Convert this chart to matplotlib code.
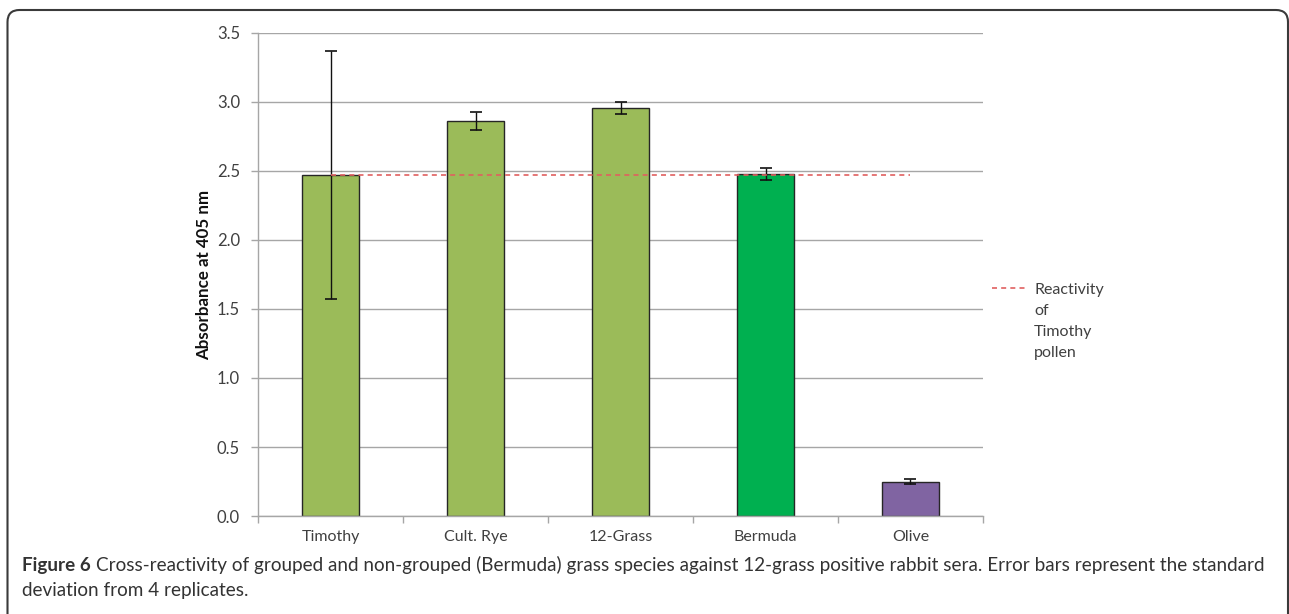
import matplotlib.pyplot as plt
from matplotlib.patches import FancyBboxPatch

species = ['Timothy', 'Cult. Rye', '12-Grass', 'Bermuda', 'Olive']
absorbance = [2.47, 2.86, 2.955, 2.48, 0.25]
std_dev = [0.90, 0.065, 0.045, 0.045, 0.015]
bar_colors = ['#9BBB59', '#9BBB59', '#9BBB59', '#00B050', '#8064A2']
timothy_reactivity = [absorbance[0]] * len(species)
legend_lines = ['Reactivity', 'of', 'Timothy', 'pollen']

plt.rcParams['font.family'] = ['Lato', 'DejaVu Sans']

fig = plt.figure(figsize=(12.89, 6.14), dpi=100)

# rounded panel outline (open at the bottom)
frame = FancyBboxPatch((0.075, -0.5), 12.805, 6.54,
                       boxstyle='round,pad=0,rounding_size=0.12',
                       transform=fig.dpi_scale_trans, fill=False,
                       edgecolor='#3a3a3a', linewidth=1.5)
fig.patches.append(frame)

ax = fig.add_axes([0.2002, 0.1596, 0.5624, 0.7867])
x = list(range(len(species)))

ax.bar(x, absorbance, width=0.39, color=bar_colors, edgecolor='#262626',
       linewidth=1.0, zorder=2)
ax.errorbar(x, absorbance, yerr=std_dev, fmt='none', ecolor='#111111',
            elinewidth=1.0, capsize=4, capthick=1.2, zorder=3)
ax.plot(x, timothy_reactivity, linestyle=(0, (3, 2.5)), color='#E06060',
        linewidth=1.2, zorder=4, label=legend_lines[0])

ax.set_xlim(-0.5, 4.5)
ax.set_ylim(0, 3.5)
ax.set_yticks([0, 0.5, 1.0, 1.5, 2.0, 2.5, 3.0, 3.5])
ax.set_yticklabels(['0.0', '0.5', '1.0', '1.5', '2.0', '2.5', '3.0', '3.5'])
ax.grid(axis='y', color='#A6A6A6', linewidth=1.0, zorder=0)
ax.set_axisbelow(True)

# category labels centred under bars, ticks between categories
ax.set_xticks([i - 0.5 for i in range(len(species) + 1)])
ax.set_xticklabels([])
ax.set_xticks(x, minor=True)
ax.set_xticklabels(species, minor=True)
ax.tick_params(axis='x', which='minor', length=0, pad=10,
               labelsize=11.5, labelcolor='#404040')
ax.tick_params(axis='x', which='major', length=5, width=1, color='#A6A6A6')
ax.tick_params(axis='y', length=5, width=1, color='#A6A6A6', pad=8,
               labelsize=12, labelcolor='#404040')

for side in ['top', 'right']:
    ax.spines[side].set_visible(False)
for side in ['left', 'bottom']:
    ax.spines[side].set_color('#A6A6A6')
    ax.spines[side].set_linewidth(1.0)

ax.set_ylabel('Absorbance at 405 nm', fontsize=12.2, fontweight='bold',
              color='#111111')
ax.yaxis.set_label_coords(-0.064, 0.5)

leg = ax.legend(loc='center left', bbox_to_anchor=(1.012, 0.4685),
                frameon=False, handlelength=2.2, handletextpad=0.45,
                fontsize=11.5, labelcolor='#404040', borderaxespad=0,
                borderpad=0)

# continue the legend label on the lines below "Reactivity"
fig.canvas.draw()
renderer = fig.canvas.get_renderer()
leg_text = leg.get_texts()[0]
bb = leg_text.get_window_extent(renderer)
_, _, descent = renderer.get_text_width_height_descent(
    legend_lines[0], leg_text.get_fontproperties(), ismath=False)
baseline = bb.y0 + descent
for k, word in enumerate(legend_lines[1:], start=1):
    fig.text(bb.x0 / fig.bbox.width, (baseline - 21 * k) / fig.bbox.height,
             word, fontsize=11.5, color='#404040', va='baseline')

cap_y1 = 0.0795
cap_y2 = 0.039
fig_label = fig.text(0.017, cap_y1, 'Figure 6', fontsize=13.6,
                     fontweight='bold', color='#333333', va='center')
fig.canvas.draw()
fb = fig_label.get_window_extent().transformed(fig.transFigure.inverted())
fig.text(fb.x1 + 0.004, cap_y1,
         'Cross-reactivity of grouped and non-grouped (Bermuda) grass species '
         'against 12-grass positive rabbit sera. Error bars represent the standard',
         fontsize=13.6, color='#333333', va='center')
fig.text(0.017, cap_y2, 'deviation from 4 replicates.', fontsize=13.6,
         color='#333333', va='center')

fig.savefig('out.png', dpi=100)
